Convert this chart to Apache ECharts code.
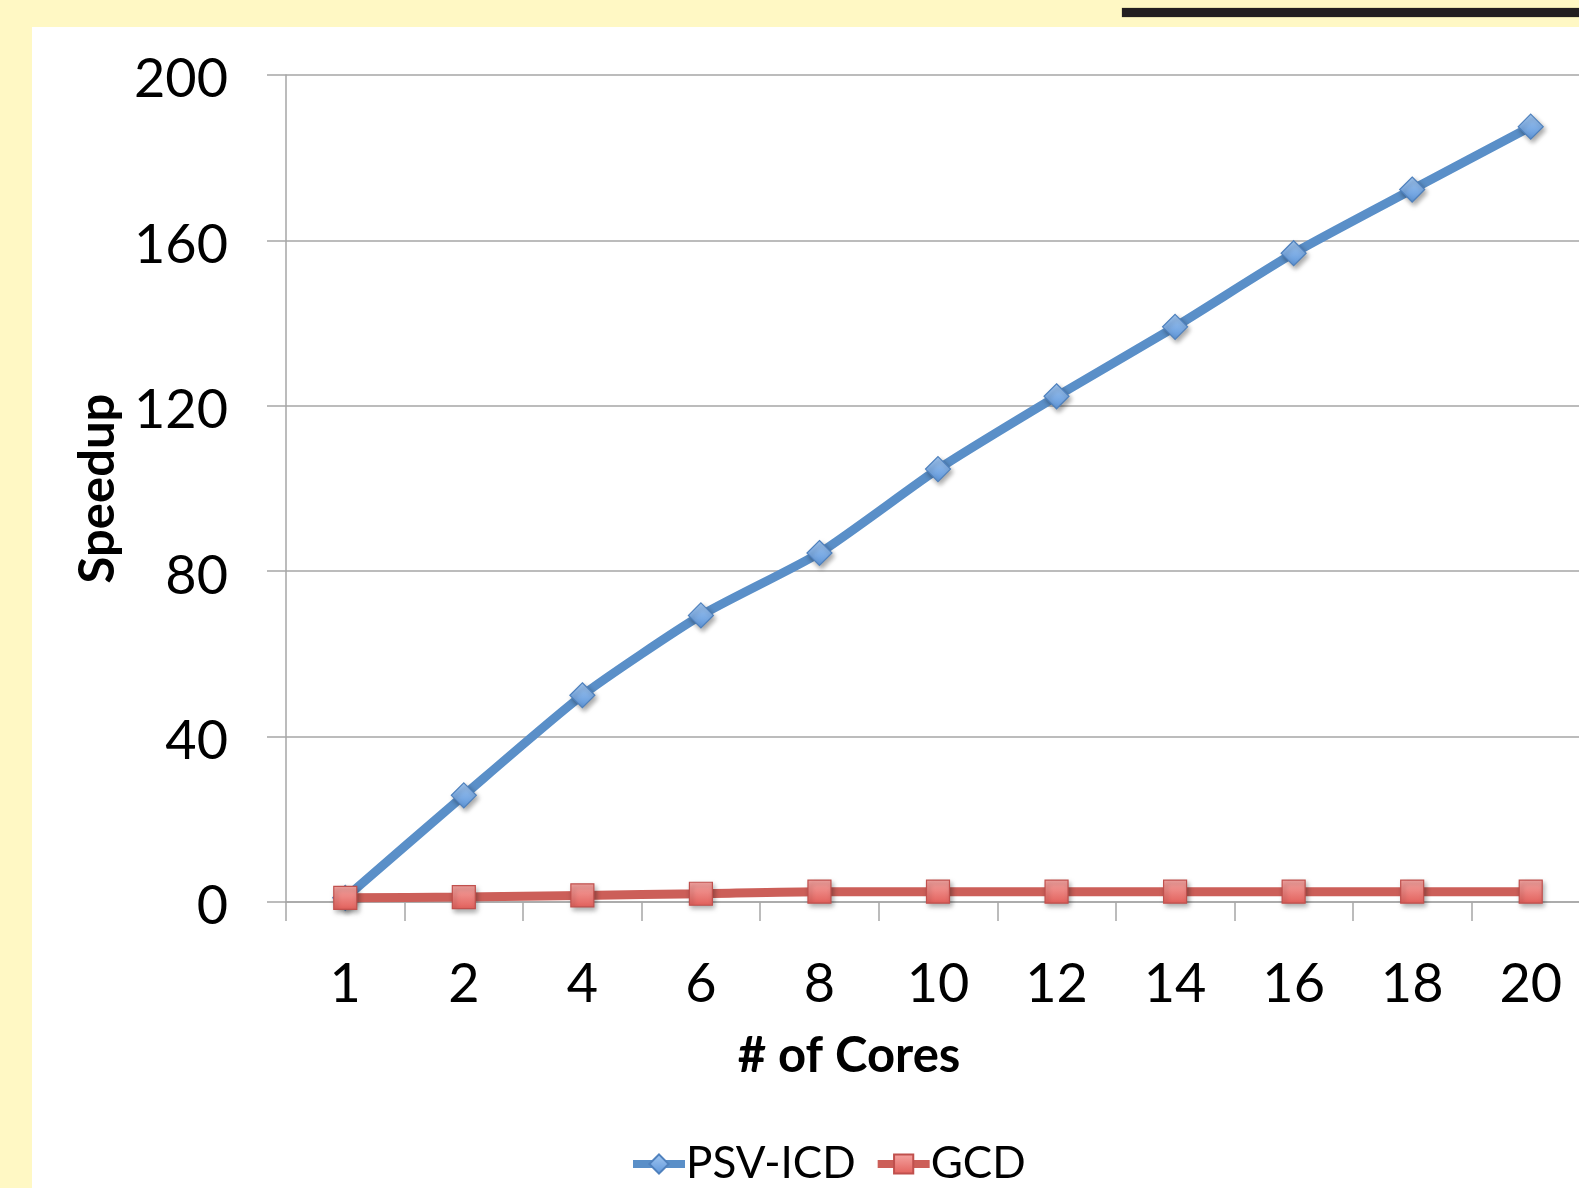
<!DOCTYPE html>
<html>
<head>
<meta charset="utf-8">
<script src="https://cdn.jsdelivr.net/npm/echarts@6/dist/echarts.min.js"></script>
<style>
  html, body { margin: 0; padding: 0; }
  body { width: 1579px; height: 1188px; background: #FFF8C4; position: relative; overflow: hidden; }
  #panel { position: absolute; left: 32px; top: 27px; right: 0; bottom: 0; background: #ffffff; }
  #bar { position: absolute; left: 1122px; top: 8px; width: 457px; height: 9px; background: #231F20; box-shadow: 0 0 1px #6b6a3a; }
  /* the plot runs past the right edge of the page, so the canvas is wider than the view */
  #chart { position: absolute; left: 0; top: 0; width: 1620px; height: 1188px; }
</style>
</head>
<body>
<div id="panel"></div>
<div id="bar"></div>
<div id="chart"></div>
<script>
// Number of cores on the x axis
const cores = ['1', '2', '4', '6', '8', '10', '12', '14', '16', '18', '20'];
// Measured speedup per core count
const psvIcd = [1, 25.8, 50.0, 69.3, 84.4, 104.7, 122.3, 139.1, 156.9, 172.3, 187.5];
const gcd = [1, 1.2, 1.6, 2.0, 2.5, 2.5, 2.5, 2.5, 2.5, 2.5, 2.5];
// Y axis ticks
const yMin = 0, yMax = 200, yStep = 40;

const font = 'Lato, "Open Sans", sans-serif';
const chart = echarts.init(document.getElementById('chart'), null, { renderer: 'canvas' });

function grad(top, bottom) {
  return new echarts.graphic.LinearGradient(0, 0, 0, 1, [
    { offset: 0, color: top }, { offset: 1, color: bottom }
  ]);
}

const markerShadow = {
  shadowBlur: 5,
  shadowColor: 'rgba(0,0,0,0.35)',
  shadowOffsetX: 2,
  shadowOffsetY: 3
};

chart.setOption({
  backgroundColor: 'transparent',
  animation: false,
  textStyle: { fontFamily: font },
  grid: { left: 286, top: 75, width: 1304, bottom: 286, containLabel: false },
  legend: {
    top: 1137,
    left: 624,
    itemWidth: 52,
    itemHeight: 24,
    itemGap: 18,
    lineStyle: { width: 8 },
    textStyle: { fontFamily: font, fontSize: 44, color: '#000', padding: [0, 0, 0, -4] },
    data: ['PSV-ICD', 'GCD']
  },
  graphic: [
    {
      type: 'text',
      x: 849,
      y: 1056,
      style: {
        text: '# of Cores',
        fill: '#000',
        font: 'bold 49px ' + font,
        textAlign: 'center',
        textVerticalAlign: 'middle'
      }
    }
  ],
  xAxis: {
    type: 'category',
    data: cores,
    boundaryGap: true,
    axisLine: { lineStyle: { color: '#A6A6A6', width: 1.5 } },
    axisTick: { show: true, length: 19, alignWithLabel: false, lineStyle: { color: '#A6A6A6', width: 1.5 } },
    axisLabel: { margin: 56, fontSize: 54, color: '#000', fontFamily: font },
    splitLine: { show: false }
  },
  yAxis: {
    type: 'value',
    min: yMin,
    max: yMax,
    interval: yStep,
    name: 'Speedup',
    nameLocation: 'middle',
    nameGap: 155,
    nameRotate: 90,
    nameTextStyle: { fontFamily: font, fontSize: 49, fontWeight: 'bold', color: '#000' },
    axisLine: { show: true, lineStyle: { color: '#A6A6A6', width: 1.5 } },
    axisTick: { show: true, length: 19, lineStyle: { color: '#A6A6A6', width: 1.5 } },
    axisLabel: { margin: 58, fontSize: 54, color: '#000', fontFamily: font, verticalAlign: 'top', lineHeight: 10 },
    splitLine: { show: true, lineStyle: { color: '#A6A6A6', width: 1.5 } }
  },
  series: [
    {
      name: 'PSV-ICD',
      type: 'line',
      data: psvIcd,
      smooth: 0.2,
      symbol: 'diamond',
      symbolSize: 25,
      z: 3,
      lineStyle: { color: '#5A8FC8', width: 9 },
      itemStyle: Object.assign({
        color: grad('#A3C8F2', '#5E96DA'),
        borderColor: '#4F81BD',
        borderWidth: 1.2
      }, markerShadow)
    },
    {
      name: 'GCD',
      type: 'line',
      data: gcd,
      smooth: 0.2,
      symbol: 'rect',
      symbolSize: 23,
      z: 4,
      lineStyle: { color: '#CC5F59', width: 9 },
      itemStyle: Object.assign({
        color: grad('#F5A6A3', '#E2605B'),
        borderColor: '#C0504D',
        borderWidth: 1.2
      }, markerShadow)
    }
  ]
});
</script>
</body>
</html>
